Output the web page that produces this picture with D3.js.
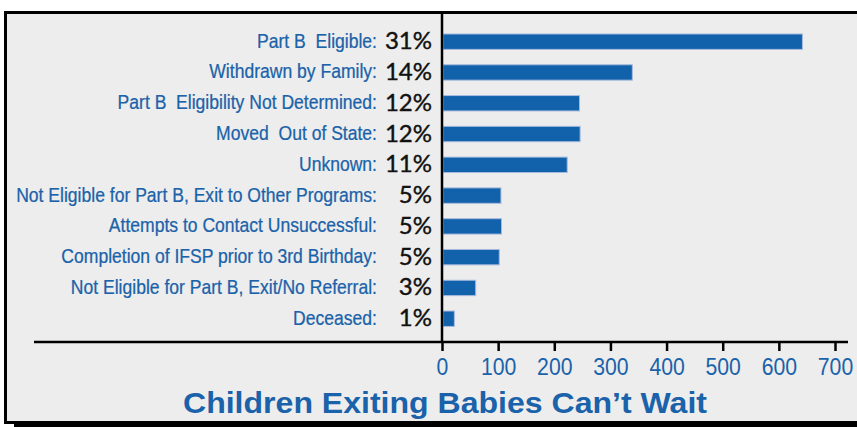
<!DOCTYPE html>
<html>
<head>
<meta charset="utf-8">
<script src="https://cdn.jsdelivr.net/npm/d3@7"></script>
<style>
  body { margin: 0; background: #fff; }
  svg { display: block; }
  text { white-space: pre; }
</style>
</head>
<body>
<svg width="857" height="427"></svg>
<script>
// values
const categories = [
  "Part B  Eligible:",
  "Withdrawn by Family:",
  "Part B  Eligibility Not Determined:",
  "Moved  Out of State:",
  "Unknown:",
  "Not Eligible for Part B, Exit to Other Programs:",
  "Attempts to Contact Unsuccessful:",
  "Completion of IFSP prior to 3rd Birthday:",
  "Not Eligible for Part B, Exit/No Referral:",
  "Deceased:"
];
const counts = [642, 339, 245, 246, 223, 105, 106, 102, 60, 22];
const percents = ["31%", "14%", "12%", "12%", "11%", "5%", "5%", "5%", "3%", "1%"];
const xTicks = [0, 100, 200, 300, 400, 500, 600, 700];
const title = "Children Exiting Babies Can\u2019t Wait";

const svg = d3.select('svg');
const blue = "#1a62a9";

const x = d3.scaleLinear().domain([0, 700]).range([442, 835]);
const y = d3.scaleBand().domain(categories).range([18.6, 341.8]).padding(0.5);

// frame with shadow
svg.append("rect")
    .attr("x", 14).attr("y", 16).attr("width", 900).attr("height", 411)
    .attr("fill", "#000");
svg.append("rect")
    .attr("x", 5.5).attr("y", 12.5).attr("width", 900).attr("height", 410)
    .attr("fill", "#ededed")
    .attr("stroke", "#000")
    .attr("stroke-width", 3);

// bars
svg.append("g").attr("id", "bars")
    .selectAll("rect")
    .data(categories)
    .enter()
    .append("rect")
        .attr("x", x(0) + 1)
        .attr("y", d => y(d))
        .attr("width", (d, i) => x(counts[i]) - x(0) - 1)
        .attr("height", y.bandwidth())
        .attr("fill", "#1162aa")
        .attr("stroke", "#a8badf")
        .attr("stroke-width", 1);

// category labels (squeezed a bit, the original uses a condensed face)
svg.append("g").attr("id", "cat-labels")
    .attr("transform", "translate(377,0) scale(0.9,1)")
    .selectAll("text")
    .data(categories)
    .enter()
    .append("text")
        .attr("x", 0)
        .attr("y", d => y(d) + y.bandwidth() / 2 + 6)
        .attr("text-anchor", "end")
        .attr("font-family", "'Liberation Sans', Arial, sans-serif")
        .attr("font-size", 19.5)
        .attr("fill", blue)
        .attr("stroke", blue)
        .attr("stroke-width", 0.25)
        .text(d => d);

// percent labels
svg.append("g").attr("id", "pct-labels")
    .selectAll("text")
    .data(categories)
    .enter()
    .append("text")
        .attr("x", 432)
        .attr("y", d => y(d) + y.bandwidth() / 2 + 7.5)
        .attr("text-anchor", "end")
        .attr("font-family", "Lato, sans-serif")
        .attr("font-size", 24)
        .attr("fill", "#111")
        .attr("stroke", "#111")
        .attr("stroke-width", 0.4)
        .text((d, i) => percents[i]);

// vertical axis line
svg.append("line")
    .attr("x1", x(0)).attr("x2", x(0))
    .attr("y1", 12).attr("y2", 343)
    .attr("stroke", "#000").attr("stroke-width", 2.5);

const xAxis = d3.axisBottom(x).tickValues(xTicks).tickSize(9).tickSizeOuter(0).tickFormat(d3.format("d"));
const gx = svg.append("g")
    .attr("transform", "translate(0,342)")
    .call(xAxis);
gx.select(".domain").remove();
gx.selectAll(".tick line").attr("stroke", "#000").attr("stroke-width", 2.5);
gx.selectAll(".tick text")
    .attr("y", 33)
    .attr("dy", 0)
    .attr("fill", blue)
    .attr("font-family", "'Liberation Sans', Arial, sans-serif")
    .attr("font-size", 24)
    .attr("textLength", d => String(d).length * 11.8)
    .attr("lengthAdjust", "spacingAndGlyphs");

svg.append("line")
    .attr("x1", 34).attr("x2", 848)
    .attr("y1", 342).attr("y2", 342)
    .attr("stroke", "#000").attr("stroke-width", 2.5);

// title
svg.append("text")
    .attr("x", 445)
    .attr("y", 413)
    .attr("text-anchor", "middle")
    .attr("font-family", "'Liberation Sans', Arial, sans-serif")
    .attr("font-weight", "bold")
    .attr("font-size", 30)
    .attr("textLength", 524)
    .attr("lengthAdjust", "spacingAndGlyphs")
    .attr("fill", blue)
    .text(title);
</script>
</body>
</html>
